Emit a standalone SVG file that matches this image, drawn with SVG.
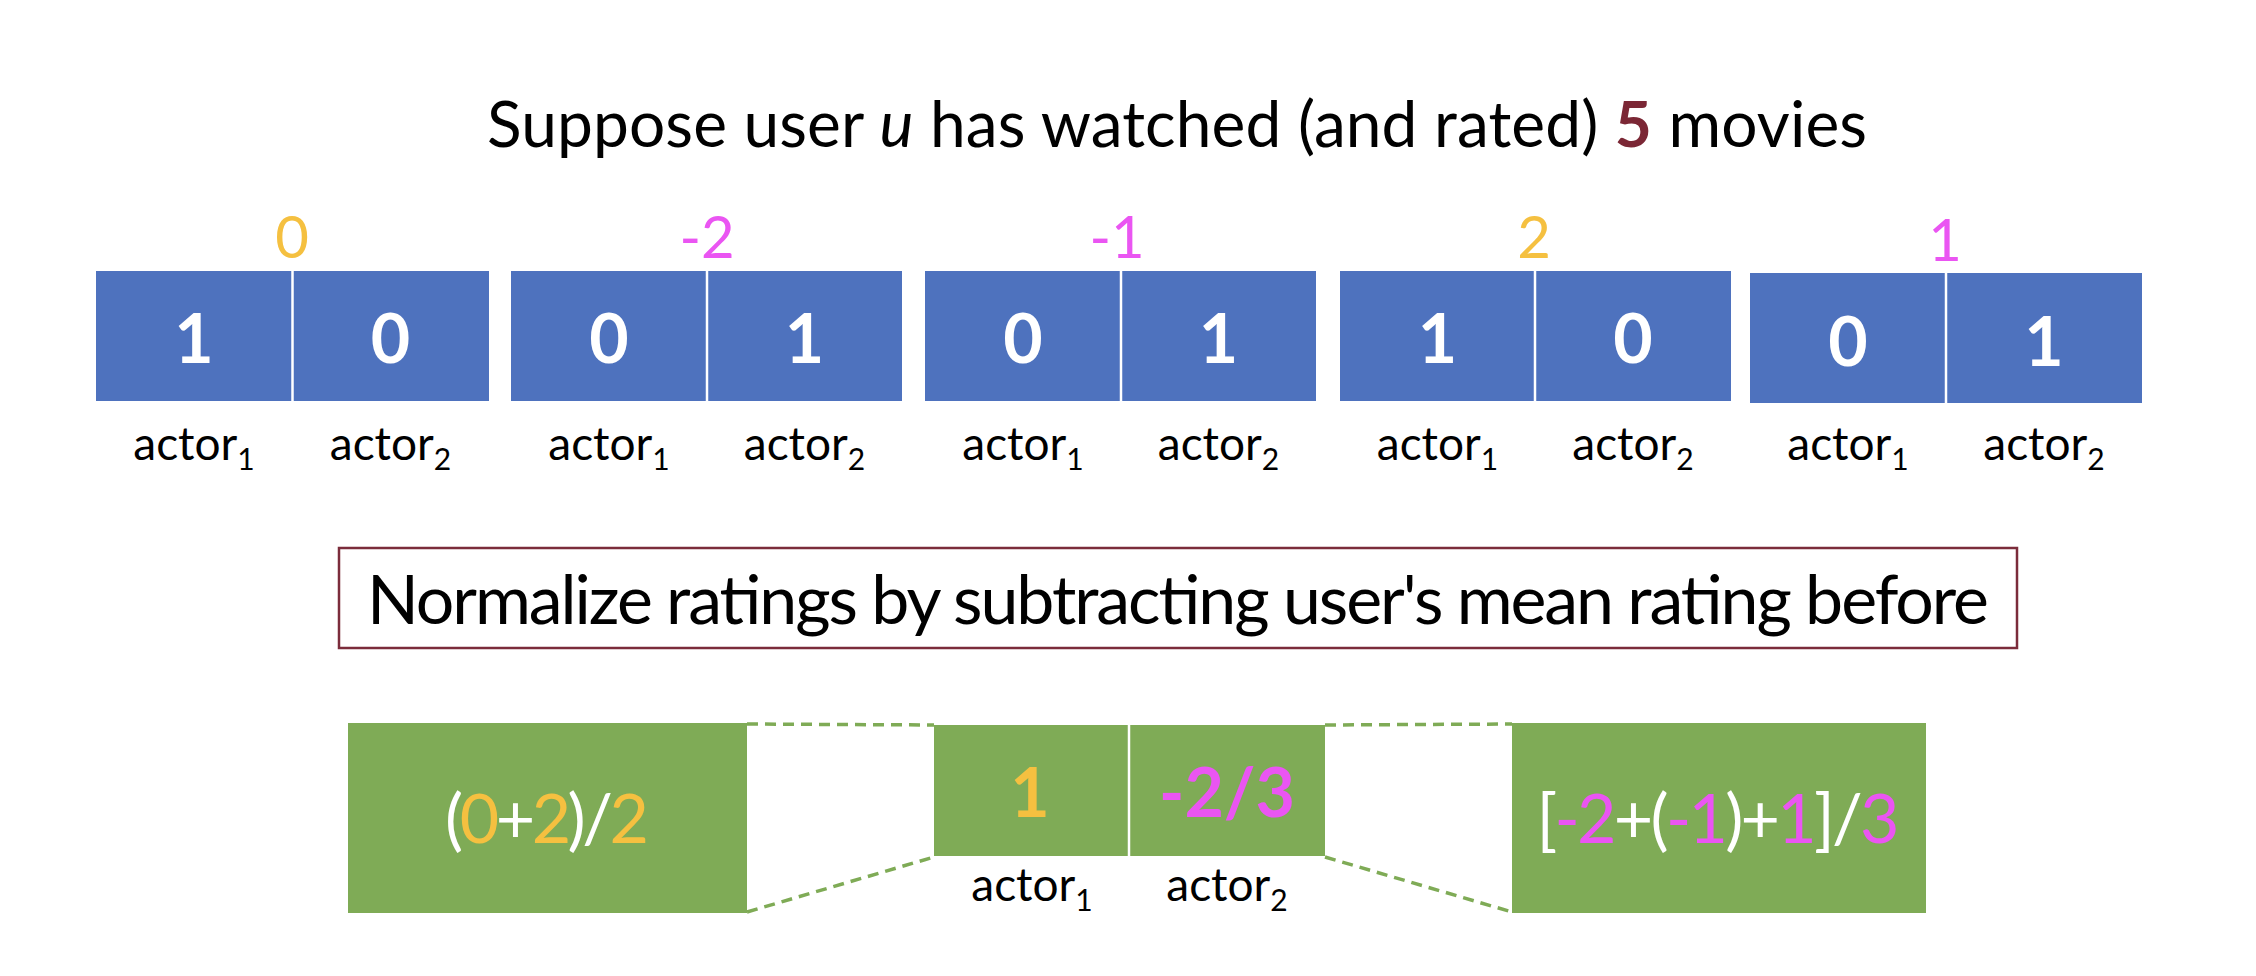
<svg xmlns="http://www.w3.org/2000/svg" width="2256" height="976" viewBox="0 0 2256 976">
<style>
.t{font-family:Lato,"Liberation Sans",sans-serif;}
.title{font-size:64px;fill:#000;}
.blue{fill:#4E72BE;}
.green{fill:#7FAB56;}
.div{stroke:#fff;stroke-width:2.5;}
.dig{font-size:68px;font-weight:bold;fill:#fff;text-anchor:middle;}
.rate{font-size:58px;text-anchor:middle;}
.or{fill:#F5C040;}
.mg{fill:#EA55F2;}
.wh{fill:#fff;}
.lbl{font-size:46px;fill:#000;text-anchor:middle;}
.sub{font-size:30px;}
.dash{stroke:#7FAB56;stroke-width:3.5;stroke-dasharray:11 7;fill:none;}
.frm{font-size:68px;text-anchor:middle;}
</style>
<rect width="2256" height="976" fill="#fff"/>

<g id="title">
<text class="t title" x="1177" y="147" text-anchor="middle" textLength="1380">Suppose user <tspan font-style="italic">u</tspan> has watched (and rated) <tspan font-weight="bold" fill="#7B2735">5</tspan> movies</text>
</g>

<g id="movie1">
<rect class="blue" x="96" y="271" width="393" height="130"/>
<line class="div" x1="292.5" y1="271" x2="292.5" y2="401"/>
<text class="t dig" x="194" y="363">1</text>
<text class="t dig" x="390.5" y="363">0</text>
<text class="t rate or" x="292" y="258">0</text>
<text class="t lbl" x="194" y="460">actor<tspan class="sub" dy="10">1</tspan></text>
<text class="t lbl" x="390.5" y="460">actor<tspan class="sub" dy="10">2</tspan></text>
</g>

<g id="movie2">
<rect class="blue" x="511" y="271" width="391" height="130"/>
<line class="div" x1="707" y1="271" x2="707" y2="401"/>
<text class="t dig" x="609" y="363">0</text>
<text class="t dig" x="804.5" y="363">1</text>
<text class="t rate mg" x="707" y="258">-2</text>
<text class="t lbl" x="609" y="460">actor<tspan class="sub" dy="10">1</tspan></text>
<text class="t lbl" x="804.5" y="460">actor<tspan class="sub" dy="10">2</tspan></text>
</g>

<g id="movie3">
<rect class="blue" x="925" y="271" width="391" height="130"/>
<line class="div" x1="1121" y1="271" x2="1121" y2="401"/>
<text class="t dig" x="1023" y="363">0</text>
<text class="t dig" x="1218.5" y="363">1</text>
<text class="t rate mg" x="1117" y="258">-1</text>
<text class="t lbl" x="1023" y="460">actor<tspan class="sub" dy="10">1</tspan></text>
<text class="t lbl" x="1218.5" y="460">actor<tspan class="sub" dy="10">2</tspan></text>
</g>

<g id="movie4">
<rect class="blue" x="1340" y="271" width="391" height="130"/>
<line class="div" x1="1535" y1="271" x2="1535" y2="401"/>
<text class="t dig" x="1437.5" y="363">1</text>
<text class="t dig" x="1633" y="363">0</text>
<text class="t rate or" x="1534" y="258">2</text>
<text class="t lbl" x="1437.5" y="460">actor<tspan class="sub" dy="10">1</tspan></text>
<text class="t lbl" x="1633" y="460">actor<tspan class="sub" dy="10">2</tspan></text>
</g>

<g id="movie5">
<rect class="blue" x="1750" y="273" width="392" height="130"/>
<line class="div" x1="1946" y1="273" x2="1946" y2="403"/>
<text class="t dig" x="1848" y="366">0</text>
<text class="t dig" x="2044" y="366">1</text>
<text class="t rate mg" x="1945" y="261">1</text>
<text class="t lbl" x="1848" y="460">actor<tspan class="sub" dy="10">1</tspan></text>
<text class="t lbl" x="2044" y="460">actor<tspan class="sub" dy="10">2</tspan></text>
</g>

<g id="normalize">
<rect x="339" y="548" width="1678" height="100" fill="#fff" stroke="#7B2C3B" stroke-width="2.5"/>
<text class="t" x="1178" y="624" font-size="68" text-anchor="middle" textLength="1622" fill="#000">Normalize ratings by subtracting user's mean rating before</text>
</g>

<g id="connectors">
<line class="dash" x1="747" y1="724" x2="934" y2="725"/>
<line class="dash" x1="747" y1="912" x2="934" y2="857"/>
<line class="dash" x1="1325" y1="725" x2="1512" y2="724"/>
<line class="dash" x1="1325" y1="857" x2="1512" y2="912"/>
</g>

<g id="mean-actor1">
<rect class="green" x="348" y="723" width="399" height="190"/>
<text class="t frm" x="547" y="843" textLength="204"><tspan class="wh">(</tspan><tspan class="or">0</tspan><tspan class="wh">+</tspan><tspan class="or">2</tspan><tspan class="wh">)/</tspan><tspan class="or">2</tspan></text>
</g>

<g id="normalized-actors">
<rect class="green" x="934" y="725" width="391" height="131"/>
<line class="div" x1="1129" y1="725" x2="1129" y2="856"/>
<text class="t dig or" x="1030" y="817">1</text>
<text class="t dig mg" x="1227" y="817" font-weight="900">-2/3</text>
<text class="t lbl" x="1032" y="901">actor<tspan class="sub" dy="10">1</tspan></text>
<text class="t lbl" x="1227" y="901">actor<tspan class="sub" dy="10">2</tspan></text>
</g>

<g id="mean-actor2">
<rect class="green" x="1512" y="723" width="414" height="190"/>
<text class="t frm" x="1718" y="843" textLength="363"><tspan class="wh">[</tspan><tspan class="mg">-2</tspan><tspan class="wh">+(</tspan><tspan class="mg">-1</tspan><tspan class="wh">)+</tspan><tspan class="mg">1</tspan><tspan class="wh">]/</tspan><tspan class="mg">3</tspan></text>
</g>
</svg>
